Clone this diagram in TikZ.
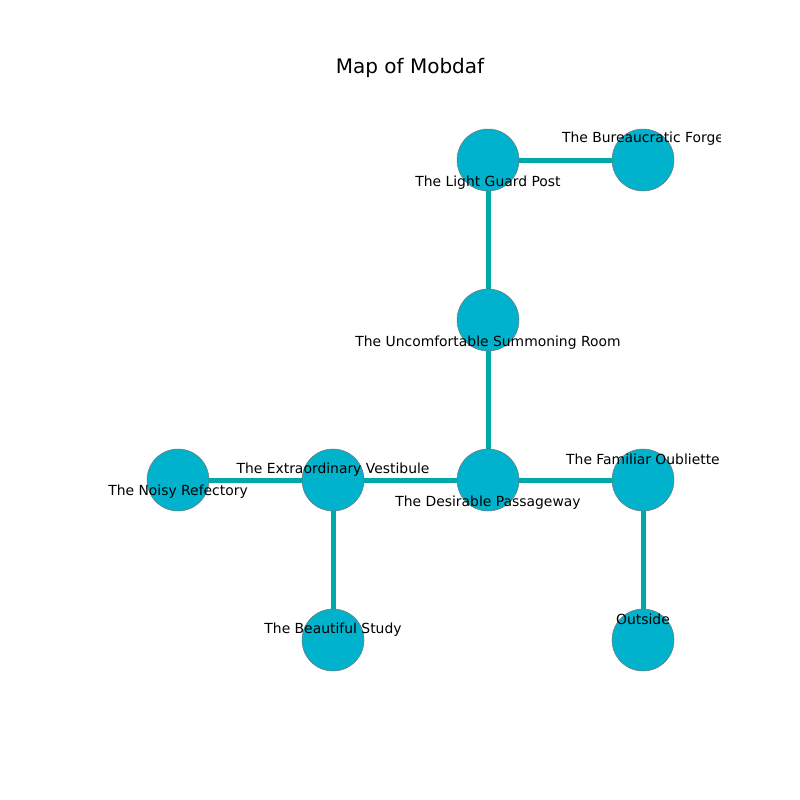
\documentclass[tikz,border=0pt]{standalone}
\usepackage{fontspec}
\setmainfont{DejaVu Sans}
\begin{document}
\begin{tikzpicture}[x=1pt,y=-1pt,
  room/.style={circle,draw=black!55,line width=0.5pt,fill=roomfill,minimum size=62pt,inner sep=0pt},
  link/.style={draw=linkcol,line width=5pt},
  lbl/.style={font=\fontsize{13.9}{16}\selectfont,inner sep=0pt,anchor=center}]
\definecolor{roomfill}{HTML}{00B2CC}
\definecolor{linkcol}{HTML}{00A8A8}
\useasboundingbox (0,0) rectangle (800,800);
\node[font=\fontsize{20}{24}\selectfont] (title) at (410,68) {Map of Mobdaf};
\coordinate (lg) at (488,160);
\coordinate (bf) at (643,160);
\coordinate (us) at (488,320);
\coordinate (dp) at (488,480);
\coordinate (ev) at (333,480);
\coordinate (nr) at (178,480);
\coordinate (fo) at (643,480);
\coordinate (bs) at (333,640);
\coordinate (os) at (643,640);
\draw[link] (lg) -- (bf);
\draw[link] (lg) -- (us);
\draw[link] (us) -- (dp);
\draw[link] (dp) -- (ev);
\draw[link] (ev) -- (nr);
\draw[link] (dp) -- (fo);
\draw[link] (ev) -- (bs);
\draw[link] (fo) -- (os);
\node[room] (nlg) at (lg) {};
\node[room] (nbf) at (bf) {};
\node[room] (nus) at (us) {};
\node[room] (ndp) at (dp) {};
\node[room] (nev) at (ev) {};
\node[room] (nnr) at (nr) {};
\node[room] (nfo) at (fo) {};
\node[room] (nbs) at (bs) {};
\node[room] (nos) at (os) {};
\begin{scope}
\clip (100,96) rectangle (720,712);
\node[lbl] (tbf) at (643,139) {The Bureaucratic Forge};
\node[lbl] (tlg) at (488,183) {The Light Guard Post};
\node[lbl] (tus) at (488,343) {The Uncomfortable Summoning Room};
\node[lbl] (tev) at (333,470) {The Extraordinary Vestibule};
\node[lbl] (tnr) at (178,492) {The Noisy Refectory};
\node[lbl] (tdp) at (488,503) {The Desirable Passageway};
\node[lbl] (tfo) at (643,459) {The Familiar Oubliette};
\node[lbl] (tbs) at (333,630) {The Beautiful Study};
\node[lbl] (tos) at (643,619) {Outside};
\end{scope}
\end{tikzpicture}
\end{document}
